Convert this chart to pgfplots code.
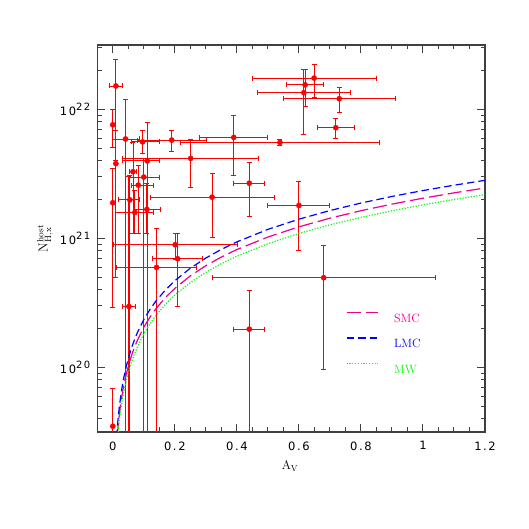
\documentclass[border=0pt]{standalone}
\usepackage{pgfplots}
\pgfplotsset{compat=1.18}
\usepackage{fontspec}
\newfontfamily\tickfont[LetterSpace=14]{DejaVu Sans}
\newcommand{\expo}[1]{10\raisebox{4.8pt}{\fontsize{10}{10}\selectfont #1}}
\begin{document}
\begin{tikzpicture}
\path[use as bounding box] (-97.3pt,-97pt) rectangle (431.7pt,432pt);
\begin{axis}[
    at={(0pt,0pt)}, anchor=south west,
    scale only axis, width=387.7pt, height=387pt,
    xmin=-0.05, xmax=1.2,
    ymode=log, ymin=3.16e19, ymax=3.16e22,
    axis line style={draw=black!75, line width=1.3pt},
    tick style={draw=black!75, line width=1pt},
    tick align=inside,
    xtick pos=both, ytick pos=both,
    major tick length=8pt, minor tick length=4.5pt,
    xtick={0,0.2,0.4,0.6,0.8,1,1.2},
    xticklabels={0,0.2,0.4,0.6,0.8,1,1.2},
    minor xtick={0.05,0.1,0.15,0.25,0.3,0.35,0.45,0.5,0.55,0.65,0.7,0.75,0.85,0.9,0.95,1.05,1.1,1.15},
    ytick={1e20,1e21,1e22},
    yticklabels={\expo{20},\expo{21},\expo{22}},
    minor ytick={4e19,5e19,6e19,7e19,8e19,9e19,2e20,3e20,4e20,5e20,6e20,7e20,8e20,9e20,2e21,3e21,4e21,5e21,6e21,7e21,8e21,9e21,2e22,3e22},
    ticklabel style={font=\tickfont\fontsize{11.5}{13}\selectfont},
    xticklabel style={yshift=-6pt},
    yticklabel style={xshift=-3.5pt},
    xlabel={$\mathrm{A_V}$},
    xlabel style={at={(axis description cs:0.497,0)}, anchor=base, yshift=-38pt, font=\fontsize{12.5}{14}\selectfont},
    ylabel={$\mathrm{N^{host}_{H,x}}$},
    ylabel style={at={(axis description cs:-0.1349,0.5)}, anchor=center, font=\fontsize{13}{15}\selectfont},
    legend style={draw=none, fill=none, inner sep=0pt, at={(0.6407,0.3106)}, anchor=north west,
        font=\fontsize{12}{14}\selectfont, row sep=15pt, column sep=16pt,
        nodes={inner sep=0pt, text height=8.5pt, text depth=0pt}},
    legend cell align=left,
    legend image code/.code={\draw[#1] (0pt,5.5pt) -- (31pt,5.5pt);},
]
% GRB host absorption vs extinction
\addplot[forget plot, only marks, mark=*, mark size=2.6pt, red,
    error bars/.cd, x dir=both, x explicit, y dir=both, y explicit,
    error bar style={line width=0.9pt, red},
    error mark options={rotate=90, red, mark size=2.5pt, line width=0.9pt}]
coordinates {
    (0.01,1.52e22) += (0.02,0.92e22) -= (0.02,1.12e22)
    (0.0,7.6e21) += (0,2.4e21) -= (0,2.5e21)
    (0.01,3.8e21) += (0,3.1e21) -= (0,3.3e21)
    (0.0,1.89e21) += (0,1.58e21) -= (0,1.6e21)
    (0.0,3.5e19) += (0,3.4e19) -= (0,3.49e19)
    (0.041,5.9e21) += (0.046,6.0e21) -= (0.042,5.89e21)
    (0.055,1.99e21) += (0.032,1.1e21) -= (0.036,1.98e21)
    (0.065,3.29e21) += (0.01,2.3e21) -= (0.01,2.2e21)
    (0.082,2.59e21) += (0.048,1.1e21) -= (0.022,1.5e21)
    (0.100,2.99e21) += (0.049,1.2e21) -= (0.048,2.98e21)
    (0.071,1.59e21) += (0.059,0.77e21) -= (0.061,0.5e21)
    (0.110,1.68e21) += (0.042,1.0e21) -= (0.039,0.59e21)
    (0.096,5.6e21) += (0.054,1.3e21) -= (0.036,1.06e21)
    (0.111,3.99e21) += (0.038,4.0e21) -= (0.081,3.98e21)
    (0.190,5.78e21) += (0.112,1.1e21) -= (0.109,1.06e21)
    (0.251,4.17e21) += (0.220,1.68e21) -= (0.221,1.67e21)
    (0.390,6.07e21) += (0.11,2.96e21) -= (0.11,2.99e21)
    (0.440,2.68e21) += (0.05,1.18e21) -= (0.05,1.19e21)
    (0.320,2.09e21) += (0.2,1.09e21) -= (0.2,1.08e21)
    (0.539,5.55e21) += (0.32,0.25e21) -= (0.32,0.25e21)
    (0.600,1.80e21) += (0.1,0.98e21) -= (0.1,1.0e21)
    (0.649,1.75e22) += (0.2,0.48e22) -= (0.2,0.52e22)
    (0.620,1.55e22) += (0.06,0.48e22) -= (0.06,0.5e22)
    (0.616,1.35e22) += (0.15,0.7e22) -= (0.15,0.71e22)
    (0.730,1.21e22) += (0.18,0.27e22) -= (0.18,0.27e22)
    (0.719,7.21e21) += (0.06,1.26e21) -= (0.06,1.28e21)
    (0.680,4.96e20) += (0.36,3.9e20) -= (0.36,4.0e20)
    (0.440,1.98e20) += (0.05,2.0e20) -= (0.05,1.97e20)
    (0.201,8.93e20) += (0.2,2e20) -= (0.2,2e20)
    (0.209,6.96e20) += (0.08,3.9e20) -= (0.08,4.0e20)
    (0.141,5.96e20) += (0.13,6e20) -= (0.13,5.95e20)
    (0.052,2.97e20) += (0.02,2.7e21) -= (0.02,2.96e20)
};
% SMC
\addplot[magenta, line width=1.2pt, dash pattern=on 14pt off 5pt] coordinates {
    (0.01,2.05e19) (0.0125,2.5625e19) (0.015,3.075e19) (0.0175,3.5875e19) (0.02,4.1e19)
    (0.025,5.125e19) (0.03,6.15e19) (0.035,7.175e19) (0.04,8.2e19) (0.05,1.025e20)
    (0.06,1.23e20) (0.07,1.435e20) (0.08,1.64e20) (0.1,2.05e20) (0.12,2.46e20)
    (0.14,2.87e20) (0.17,3.485e20) (0.2,4.1e20) (0.25,5.125e20) (0.3,6.15e20)
    (0.35,7.175e20) (0.4,8.2e20) (0.5,1.025e21) (0.6,1.23e21) (0.7,1.435e21)
    (0.8,1.64e21) (0.9,1.845e21) (1.0,2.05e21) (1.1,2.255e21) (1.2,2.46e21)
};
\addlegendentry{\textcolor{magenta}{SMC}}
% LMC
\addplot[blue, line width=1.2pt, dash pattern=on 7.5pt off 4pt] coordinates {
    (0.01,2.35e19) (0.0125,2.9375e19) (0.015,3.525e19) (0.0175,4.1125e19) (0.02,4.7e19)
    (0.025,5.875e19) (0.03,7.05e19) (0.035,8.225e19) (0.04,9.4e19) (0.05,1.175e20)
    (0.06,1.41e20) (0.07,1.645e20) (0.08,1.88e20) (0.1,2.35e20) (0.12,2.82e20)
    (0.14,3.29e20) (0.17,3.995e20) (0.2,4.7e20) (0.25,5.875e20) (0.3,7.05e20)
    (0.35,8.225e20) (0.4,9.4e20) (0.5,1.175e21) (0.6,1.41e21) (0.7,1.645e21)
    (0.8,1.88e21) (0.9,2.115e21) (1.0,2.35e21) (1.1,2.585e21) (1.2,2.82e21)
};
\addlegendentry{\textcolor{blue}{LMC}}
% MW
\addplot[green, line width=1.2pt, dash pattern=on 1.2pt off 1.6pt] coordinates {
    (0.01,1.82e19) (0.0125,2.275e19) (0.015,2.73e19) (0.0175,3.185e19) (0.02,3.64e19)
    (0.025,4.55e19) (0.03,5.46e19) (0.035,6.37e19) (0.04,7.28e19) (0.05,9.1e19)
    (0.06,1.092e20) (0.07,1.274e20) (0.08,1.456e20) (0.1,1.82e20) (0.12,2.184e20)
    (0.14,2.548e20) (0.17,3.094e20) (0.2,3.64e20) (0.25,4.55e20) (0.3,5.46e20)
    (0.35,6.37e20) (0.4,7.28e20) (0.5,9.1e20) (0.6,1.092e21) (0.7,1.274e21)
    (0.8,1.456e21) (0.9,1.638e21) (1.0,1.82e21) (1.1,2.002e21) (1.2,2.184e21)
};
\addlegendentry{\textcolor{green}{MW}}
\end{axis}
\end{tikzpicture}
\end{document}
